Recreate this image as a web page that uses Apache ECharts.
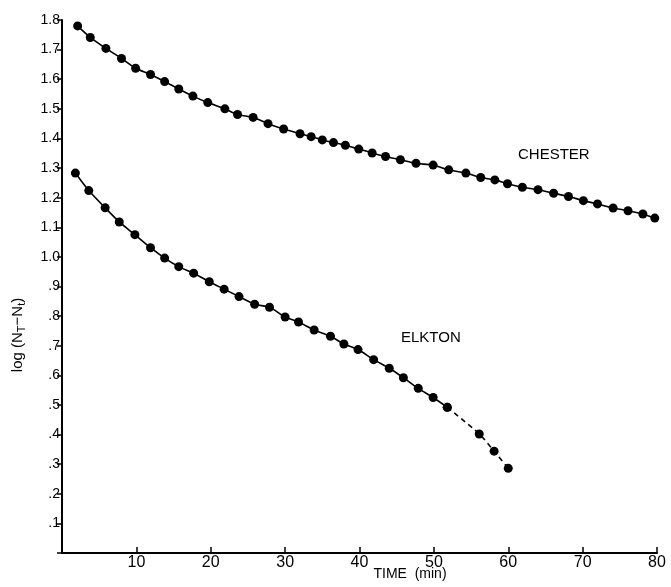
<!DOCTYPE html>
<html>
<head>
<meta charset="utf-8">
<script src="https://cdn.jsdelivr.net/npm/echarts@6/dist/echarts.min.js"></script>
<style>
  html, body { margin: 0; padding: 0; background: #fff; }
  #chart { width: 671px; height: 587px; }
</style>
</head>
<body>
<div id="chart"></div>
<script>
// time (min) and log values
var chesterTime = [2.1, 3.8, 5.9, 8.0, 9.9, 11.9, 13.8, 15.7, 17.6, 19.6, 21.9, 23.6, 25.7, 27.7, 29.8,
  32.0, 33.5, 35.0, 36.5, 38.1, 39.9, 41.7, 43.5, 45.5, 47.6, 49.9, 52.0, 54.3, 56.3, 58.2,
  59.9, 61.9, 64.0, 66.1, 68.1, 70.1, 72.0, 74.1, 76.1, 78.1, 79.7];
var chesterLog = [1.780, 1.741, 1.704, 1.670, 1.637, 1.616, 1.592, 1.567, 1.543, 1.521, 1.500, 1.481, 1.471, 1.450, 1.432,
  1.416, 1.406, 1.395, 1.386, 1.377, 1.364, 1.351, 1.339, 1.328, 1.316, 1.310, 1.294, 1.283, 1.268, 1.260,
  1.247, 1.235, 1.227, 1.215, 1.204, 1.190, 1.179, 1.165, 1.156, 1.145, 1.131];

var elktonTime = [1.8, 3.6, 5.8, 7.7, 9.8, 11.9, 13.8, 15.7, 17.7, 19.8, 21.8, 23.8, 25.9, 27.9, 30.0,
  31.8, 33.9, 36.1, 37.9, 39.8, 41.9, 44.0, 45.9, 47.9, 49.9, 51.8];
var elktonLog = [1.283, 1.224, 1.166, 1.118, 1.075, 1.031, 0.996, 0.967, 0.945, 0.916, 0.891, 0.866, 0.840, 0.830, 0.797,
  0.780, 0.753, 0.732, 0.706, 0.687, 0.653, 0.624, 0.592, 0.556, 0.525, 0.492];
// dashed tail of the Elkton curve
var elktonTailTime = [51.8, 56.1, 58.1, 60.0];
var elktonTailLog = [0.492, 0.402, 0.344, 0.286];

var xTickLabels = { 10: "10", 20: "20", 30: "30", 40: "40", 50: "50", 60: "60", 70: "70", 80: "80" };
var yTickLabels = ["", ".1", ".2", ".3", ".4", ".5", ".6", ".7", ".8", ".9",
  "1.0", "1.1", "1.2", "1.3", "1.4", "1.5", "1.6", "1.7", "1.8"];

function pairs(xs, ys) {
  return xs.map(function(x, i) { return [x, ys[i]]; });
}

var chart = echarts.init(document.getElementById("chart"));

var font = "Liberation Sans, Arial, sans-serif";

var option = {
  backgroundColor: "#fff",
  animation: false,
  grid: { left: 62, top: 20, right: 14, bottom: 34 },
  xAxis: {
    type: "value",
    min: 0,
    max: 80,
    interval: 10,
    splitLine: { show: false },
    axisLine: { lineStyle: { color: "#000", width: 2 } },
    axisTick: { inside: true, length: 6, lineStyle: { color: "#000", width: 1.5 } },
    axisLabel: {
      color: "#000",
      fontFamily: font,
      fontSize: 16,
      margin: 2,
      formatter: function(v) { return xTickLabels[v] || ""; }
    }
  },
  yAxis: {
    type: "value",
    min: 0,
    max: 1.8,
    interval: 0.1,
    splitLine: { show: false },
    axisLine: { onZero: false, lineStyle: { color: "#000", width: 2 } },
    axisTick: { length: 5, lineStyle: { color: "#000", width: 1.5 } },
    axisLabel: {
      color: "#000",
      fontFamily: font,
      fontSize: 14,
      margin: 2,
      formatter: function(v) { return yTickLabels[Math.round(v * 10)] || ""; }
    }
  },
  graphic: [
    {
      type: "text",
      left: 518,
      top: 147,
      style: { text: "CHESTER", fill: "#000", font: "15px " + font }
    },
    {
      type: "text",
      left: 401,
      top: 330,
      style: { text: "ELKTON", fill: "#000", font: "15px " + font }
    },
    {
      type: "text",
      x: 410,
      y: 574,
      style: { text: "TIME  (min)", fill: "#000", font: "14px " + font, align: "center", verticalAlign: "middle" }
    },
    {
      type: "text",
      x: 18,
      y: 335,
      rotation: Math.PI / 2,
      style: {
        text: "{a|log (N}{s|T}{a|\u2212N}{s|t}{a|)}",
        align: "center",
        verticalAlign: "middle",
        rich: {
          a: { fontSize: 15, fontFamily: font, fill: "#000", color: "#000" },
          s: { fontSize: 11, fontFamily: font, fill: "#000", color: "#000", verticalAlign: "bottom", padding: [7, 0, 0, 0] }
        }
      }
    }
  ],
  series: [
    {
      name: "CHESTER",
      type: "line",
      smooth: 0.3,
      data: pairs(chesterTime, chesterLog),
      symbol: "circle",
      symbolSize: 9,
      itemStyle: { color: "#000" },
      lineStyle: { color: "#000", width: 1.6 }
    },
    {
      name: "ELKTON",
      type: "line",
      smooth: 0.3,
      data: pairs(elktonTime, elktonLog),
      symbol: "circle",
      symbolSize: 9,
      itemStyle: { color: "#000" },
      lineStyle: { color: "#000", width: 1.6 }
    },
    {
      name: "ELKTON tail",
      type: "line",
      smooth: 0.3,
      data: pairs(elktonTailTime, elktonTailLog),
      symbol: "circle",
      symbolSize: 9,
      itemStyle: { color: "#000" },
      lineStyle: { color: "#000", width: 1.6, type: [5, 4] }
    }
  ]
};

chart.setOption(option);
</script>
</body>
</html>
